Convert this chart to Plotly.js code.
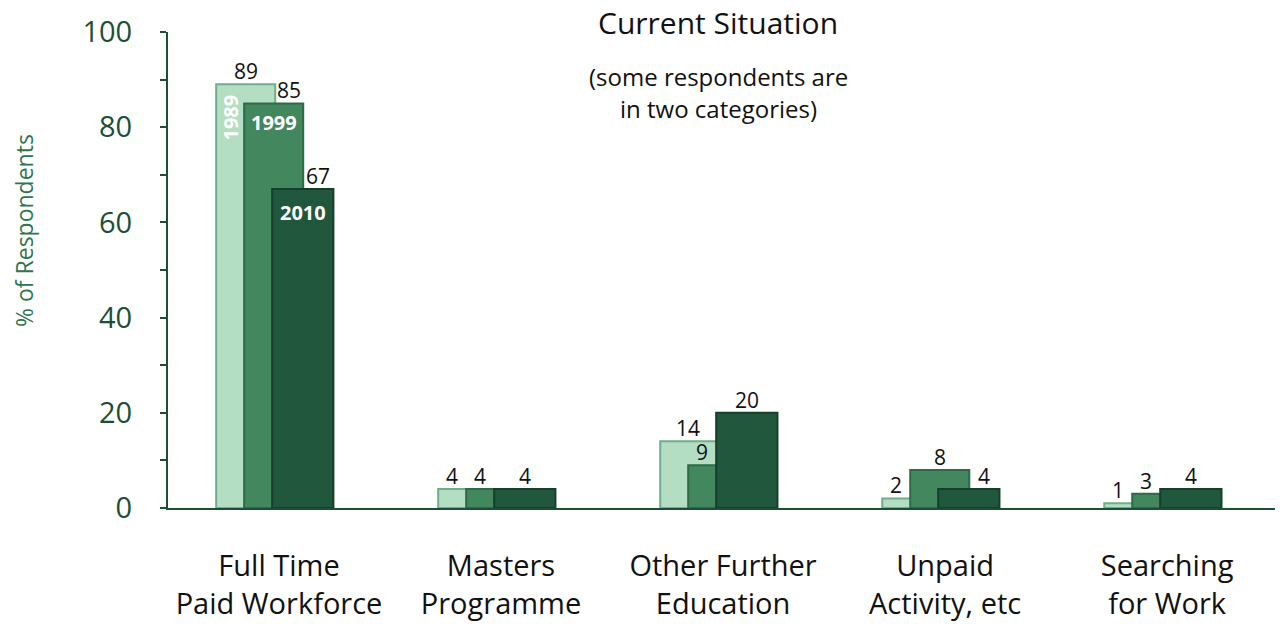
<!DOCTYPE html>
<html>
<head>
<meta charset="utf-8">
<script src="https://cdn.plot.ly/plotly-3.0.1.min.js"></script>
<style>
  html, body { margin: 0; padding: 0; background: #ffffff; }
  #chart { width: 1286px; height: 628px; }
</style>
</head>
<body>
<div id="chart"></div>
<script>
// ---- data ----
const categories = [
  "Full Time<br>Paid Workforce",
  "Masters<br>Programme",
  "Other Further<br>Education",
  "Unpaid<br>Activity, etc",
  "Searching<br>for Work"
];
const years = ["1989", "1999", "2010"];
const values1989 = [89, 4, 14, 2, 1];
const values1999 = [85, 4, 9, 8, 3];
const values2010 = [67, 4, 20, 4, 4];

// ---- style ----
const FONT = "'Open Sans', 'Noto Sans', sans-serif";
const AXIS_GREEN = "#1d4f36";
const fills = ["#b3dec4", "#43875f", "#21573c"];
const borders = ["#6fae88", "#2c6a48", "#163f2b"];
const BAR_W = 0.266;      // bar width in category units
const STEP = 0.126;       // horizontal shift between overlapping bars
const GROUP_OFF = -0.283; // left edge of first bar relative to category centre

const series = [values1989, values1999, values2010];
const idx = categories.map((_, i) => i);

function barWidth(k) { return k === 2 ? BAR_W + 0.01 : BAR_W; }

const traces = series.map((vals, k) => ({
  type: "bar",
  name: years[k],
  x: idx,
  y: vals,
  offset: GROUP_OFF + k * STEP,
  width: barWidth(k),
  marker: { color: fills[k], line: { color: borders[k], width: 2 } },
  hoverinfo: "x+y+name",
  showlegend: false
}));

// visible portion of each bar's top edge, used to place value labels
function subtract(segs, a, b) {
  const out = [];
  segs.forEach(([s, e]) => {
    if (b <= s || a >= e) { out.push([s, e]); return; }
    if (a > s) out.push([s, a]);
    if (b < e) out.push([b, e]);
  });
  return out.filter(([s, e]) => e - s > 1e-6);
}
function barInterval(c, k) {
  const l = c + GROUP_OFF + k * STEP;
  return [l, l + barWidth(k)];
}
function labelX(c, k) {
  const v = series[k][c];
  const [a, b] = barInterval(c, k);
  let segs = [[a, b]];
  let segsFront = [[a, b]];
  for (let j = 0; j < series.length; j++) {
    if (j === k) continue;
    const vj = series[j][c];
    const [ja, jb] = barInterval(c, j);
    const front = j > k && vj >= v;
    if (vj > v || front) segs = subtract(segs, ja, jb);
    if (front) segsFront = subtract(segsFront, ja, jb);
  }
  const use = segs.length ? segs : segsFront;
  use.sort((p, q) => (q[1] - q[0]) - (p[1] - p[0]));
  return (use[0][0] + use[0][1]) / 2;
}

const annotations = [];
series.forEach((vals, k) => {
  vals.forEach((v, c) => {
    annotations.push({
      x: labelX(c, k), y: v, xref: "x", yref: "y",
      text: String(v), showarrow: false,
      yanchor: "bottom", yshift: -3,
      font: { family: FONT, size: 21, color: "#111111" }
    });
  });
});

// year labels inside the first group's bars
const [a89] = barInterval(0, 0);
annotations.push({
  x: a89 + STEP / 2, y: values1989[0], xref: "x", yref: "y",
  text: "<b>" + years[0] + "</b>", textangle: -90, showarrow: false,
  yanchor: "middle", yshift: -33,
  font: { family: FONT, size: 20, color: "#ffffff" }
});
const [a99, b99] = barInterval(0, 1);
annotations.push({
  x: (a99 + b99) / 2, y: values1999[0], xref: "x", yref: "y",
  text: "<b>" + years[1] + "</b>", showarrow: false,
  yanchor: "middle", yshift: -19,
  font: { family: FONT, size: 20, color: "#ffffff" }
});
const [a10, b10] = barInterval(0, 2);
annotations.push({
  x: (a10 + b10) / 2, y: values2010[0], xref: "x", yref: "y",
  text: "<b>" + years[2] + "</b>", showarrow: false,
  yanchor: "middle", yshift: -23,
  font: { family: FONT, size: 20, color: "#ffffff" }
});

// title, subtitle, y-axis title
annotations.push({
  xref: "paper", yref: "paper", x: 0.497, y: 1, yanchor: "middle", yshift: 10,
  text: "Current Situation", showarrow: false,
  font: { family: FONT, size: 30, color: "#111111" }
});
annotations.push({
  xref: "paper", yref: "paper", x: 0.497, y: 1, yanchor: "middle", yshift: -44,
  text: "(some respondents are", showarrow: false,
  font: { family: FONT, size: 24, color: "#111111" }
});
annotations.push({
  xref: "paper", yref: "paper", x: 0.497, y: 1, yanchor: "middle", yshift: -76,
  text: "in two categories)", showarrow: false,
  font: { family: FONT, size: 24, color: "#111111" }
});
annotations.push({
  xref: "paper", yref: "paper", x: 0, xshift: -144, xanchor: "center",
  y: 1, yshift: -199, yanchor: "middle",
  text: "% of Respondents", textangle: -90, showarrow: false,
  font: { family: FONT, size: 23, color: "#2f7552" }
});

const layout = {
  width: 1286, height: 628,
  margin: { l: 168, r: 11, t: 32, b: 120 },
  paper_bgcolor: "#ffffff", plot_bgcolor: "#ffffff",
  barmode: "overlay",
  xaxis: {
    range: [-0.5, 4.486],
    tickmode: "array", tickvals: idx, ticktext: categories,
    ticks: "", showgrid: false, zeroline: false,
    showline: true, linecolor: AXIS_GREEN, linewidth: 2,
    tickfont: { family: FONT, size: 29, color: "#111111" },
    ticklabelstandoff: 31, fixedrange: true
  },
  yaxis: {
    range: [0, 100], tickvals: [0, 20, 40, 60, 80, 100],
    ticks: "outside", ticklen: 6, tickwidth: 2, tickcolor: AXIS_GREEN,
    minor: { tickvals: [10, 30, 50, 70, 90], ticks: "outside", ticklen: 6, tickwidth: 2, tickcolor: AXIS_GREEN },
    showgrid: false, zeroline: false,
    showline: true, linecolor: AXIS_GREEN, linewidth: 2,
    tickfont: { family: FONT, size: 29, color: AXIS_GREEN },
    ticklabelstandoff: 22,
    fixedrange: true
  },
  annotations: annotations,
  showlegend: false
};

Plotly.newPlot("chart", traces, layout, { displayModeBar: false, staticPlot: true });
</script>
</body>
</html>
